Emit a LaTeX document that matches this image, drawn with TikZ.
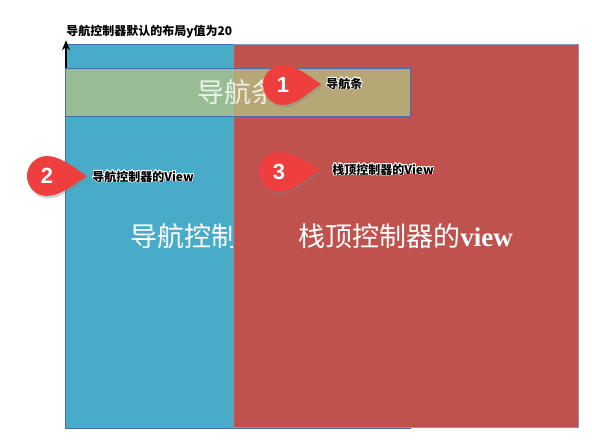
\documentclass[tikz,border=0pt]{standalone}
\usepackage{fontspec}
\setmainfont{Liberation Sans}
\newfontfamily\cjk{Noto Sans CJK SC}
\newfontfamily\slabfont{Liberation Serif}
\usepackage[copies]{contour}
\contourlength{0.35pt}
\usetikzlibrary{arrows.meta,positioning,shadows}
\definecolor{nvedge}{RGB}{72,108,168}
\definecolor{nvblue}{RGB}{72,172,200}
\definecolor{nvred}{RGB}{192,82,77}
\definecolor{nvgreen}{RGB}{179,196,133}
\definecolor{nvpin}{RGB}{238,62,62}
\tikzset{
  viewbox/.style={
    draw=nvedge, line width=0.5pt, inner sep=0pt, outer sep=0pt,
    align=center
  },
  navv/.style={viewbox, fill=nvblue, minimum width=172.5pt, minimum height=191.5pt},
  topv/.style={viewbox, fill=nvred, draw=nvedge!70!white, minimum width=172.5pt, minimum height=191pt},
  barv/.style={viewbox, fill=nvgreen, fill opacity=0.75, minimum width=172.5pt, minimum height=24pt},
  bigtxt/.style={text=white, font=\cjk\fontsize{13.5}{15}\selectfont},
  pinbody/.style={fill=nvpin, drop shadow={shadow xshift=0.6pt, shadow yshift=-1.2pt, opacity=0.35}},
  pin/.style={circle, minimum size=20pt, inner sep=0pt, text=white, font=\bfseries\fontsize{11}{12}\selectfont},
  tag/.style={inner sep=0pt, anchor=west, font=\cjk\bfseries\fontsize{6}{7}\selectfont},
  arr/.style={-{Stealth[length=5pt,width=4pt]}, draw=black, line width=0.9pt}
}

\begin{document}
\begin{tikzpicture}[x=0.5pt, y=0.5pt]
  \fill[white] (0,0) rectangle (592,440);
  \useasboundingbox (0,0) rectangle (592,440);
  % views, back to front
  \node[navv] (navview) at (237.5,203.5) {};
  \begin{scope}
    \clip (navview.south west) rectangle (233,395);
    \node[bigtxt, anchor=west, inner sep=0pt] (navtext) at (130,204) {导航控制};
  \end{scope}
  \node[topv, bigtxt] (topview) at (405.5,204) {栈顶控制器的{\slabfont\bfseries view}};
  \node[barv, bigtxt, text opacity=0.8] (navbar) at (237.5,348) {导航条};
  % y offset note
  \node[tag] (ylabel) at (66,408) {\contour{white}{导航控制器默认的布局y值为20}};
  \draw[arr, shorten >=0.5pt] ([xshift=0.5pt]navbar.north west) -- ([xshift=0.5pt]navbar.north west |- ylabel.south);
  % numbered pins
  \foreach \k/\cx/\cy/\tx/\ty in {1/283/355/321/356, 2/47/264/87/264, 3/279/268/320/270} {
    \coordinate (ctr\k) at (\cx,\cy);
    \coordinate (tip\k) at (\tx,\ty);
    \fill[pinbody] (tip\k) .. controls +(-10,6) and +(14,0) .. ([yshift=10pt]ctr\k)
      arc[start angle=90, end angle=270, radius=20]
      .. controls +(14,0) and +(-10,-6) .. (tip\k);
    \node[pin] (pin\k) at (ctr\k) {\k};
  }
  \node[tag] (tag1) at (326,356) {\contour{white}{导航条}};
  \node[tag] (tag2) at (92,263) {\contour{white}{导航控制器的View}};
  \node[tag] (tag3) at (332,270) {\contour{white}{栈顶控制器的View}};
\end{tikzpicture}
\end{document}
